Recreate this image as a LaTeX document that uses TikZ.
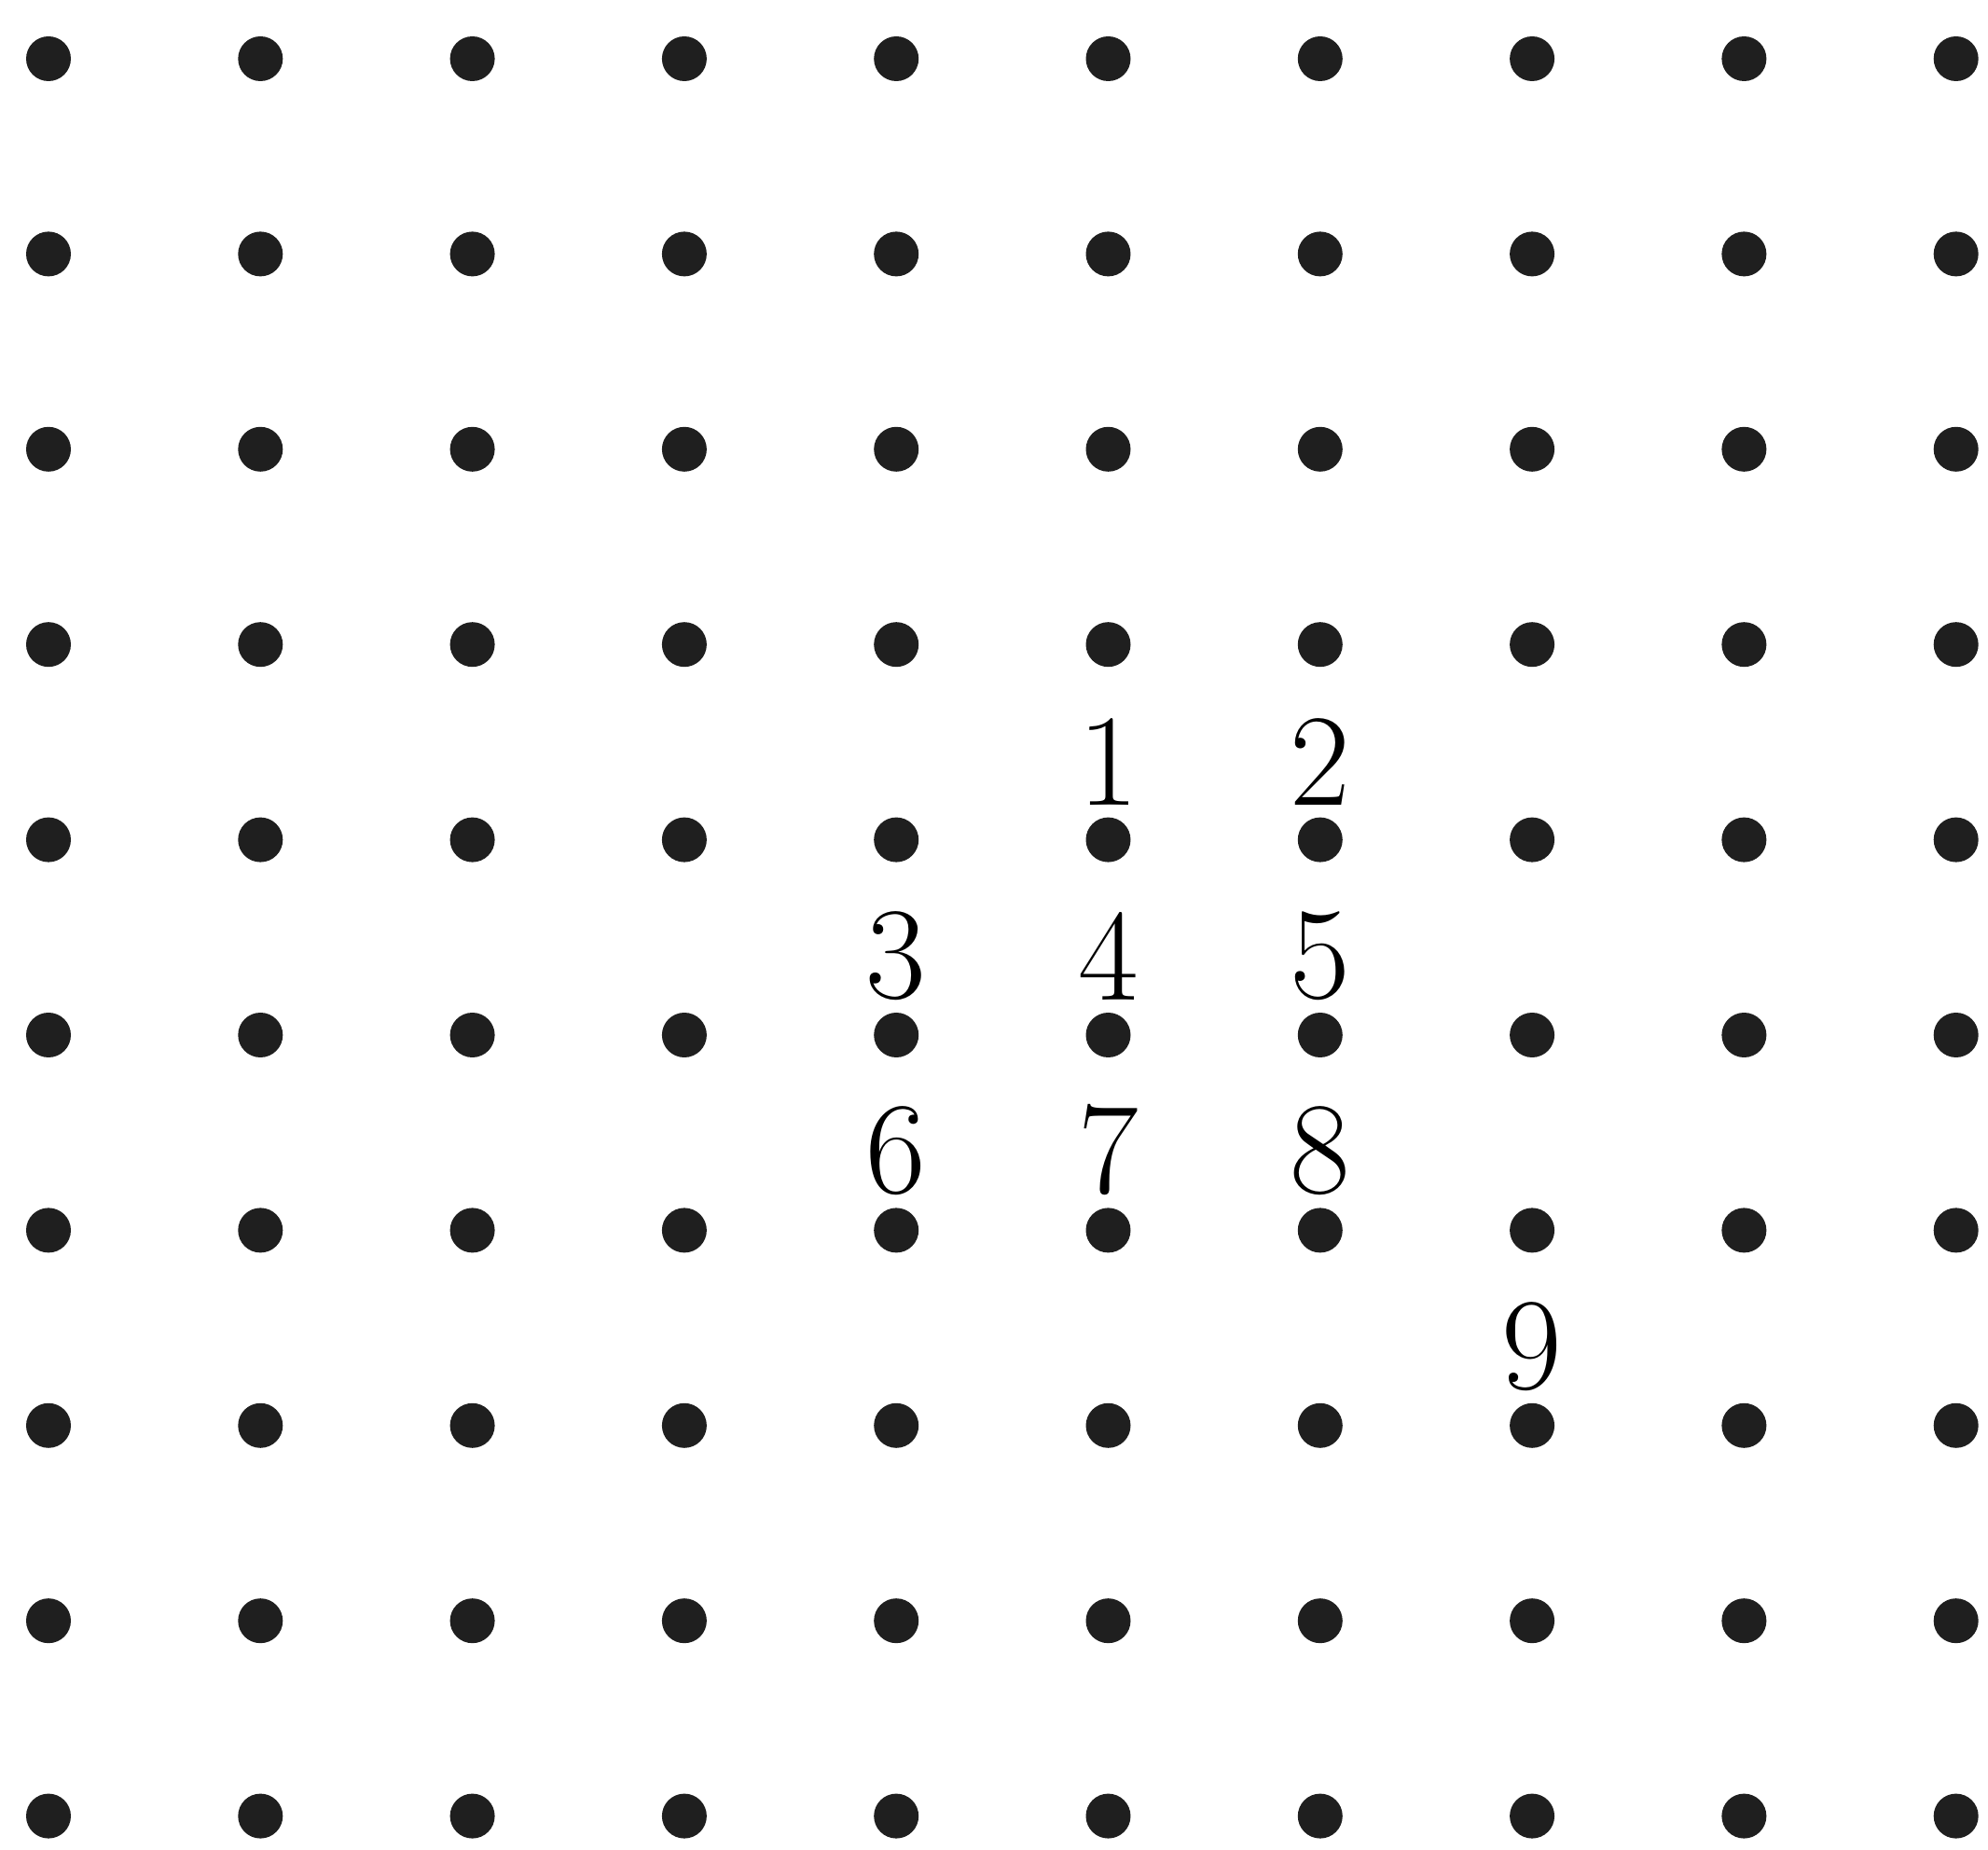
\documentclass[tikz,border=0pt]{standalone}
\usepackage{tikz}
\usetikzlibrary{positioning}

\begin{document}
\begin{tikzpicture}[
  x=1cm,
  y=1cm,
  dot/.style={circle, fill=black!88, draw=none, inner sep=0pt, minimum size=4.8mm},
  num/.style={inner sep=0pt, font=\fontsize{40}{44}\selectfont}
]

% Page frame with the margins of the original sheet.
\useasboundingbox (0,0) rectangle (21.32,-19.84);

% Ten by ten grid of dots, named d-column-row from the top left.
\foreach \i in {0,...,9} {
  \foreach \j in {0,...,9} {
    \node[dot] (d-\i-\j) at ({0.52+2.273*\i},{-0.63-2.094*\j}) {};
  }
}

% Numbers set just above their dots.
\node[num, above=1.2mm of d-5-4] (n1) {1};
\node[num, above=1.2mm of d-6-4] (n2) {2};
\node[num, above=1.2mm of d-4-5] (n3) {3};
\node[num, above=1.2mm of d-5-5] (n4) {4};
\node[num, above=1.2mm of d-6-5] (n5) {5};
\node[num, above=1.2mm of d-4-6] (n6) {6};
\node[num, above=1.2mm of d-5-6] (n7) {7};
\node[num, above=1.2mm of d-6-6] (n8) {8};
\node[num, above=1.2mm of d-7-7] (n9) {9};

\end{tikzpicture}
\end{document}
